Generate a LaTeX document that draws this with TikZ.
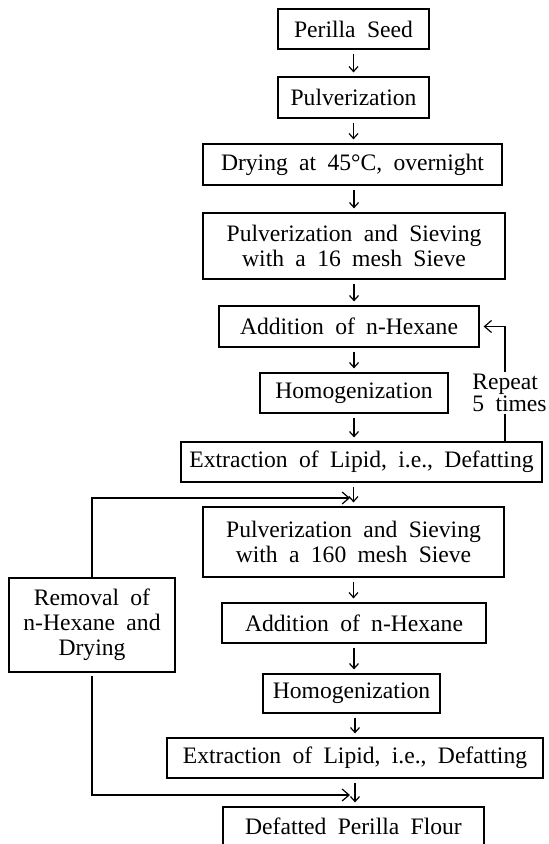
\documentclass[tikz,border=0pt]{standalone}
\usepackage{fontspec}
\setmainfont{Liberation Serif}
\usetikzlibrary{arrows.meta}

\newcommand\widespace{\spaceskip=0.48em plus 0.1em\relax}

\begin{document}
\begin{tikzpicture}[
    x=0.5pt,y=-0.5pt,
    box/.style={draw,line width=0.6pt,align=center,inner sep=0pt,font=\fontsize{11.8}{12.6}\selectfont\widespace},
    arr/.style={-{Straight Barb[length=2.5pt,width=4.5pt]},line width=0.6pt,shorten <=2pt,shorten >=2pt},
    fb/.style={-{Straight Barb[length=3.5pt,width=6pt]},line width=0.6pt,shorten >=2pt}
  ]
    \useasboundingbox (0,0) rectangle (548,844);
    % main column
    \node[box,minimum width=75.5pt,minimum height=20pt] (seed) at (353.5,29) {Perilla Seed};
    \node[box,minimum width=75.5pt,minimum height=20.5pt] (pulv1) at (353.5,97.5) {Pulverization};
    \node[box,minimum width=149.5pt,minimum height=20.5pt] (dry) at (352.5,164.5) {Drying at 45°C, overnight};
    \node[box,minimum width=151pt,minimum height=33pt] (sieve1) at (354,246) {Pulverization and Sieving\\with a 16 mesh Sieve};
    \node[box,minimum width=130pt,minimum height=20.5pt] (hex1) at (349,326.5) {Addition of n-Hexane};
    \node[box,minimum width=94pt,minimum height=20pt] (homo1) at (354,393) {Homogenization};
    \node[box,minimum width=180.5pt,minimum height=20pt] (ext1) at (361.5,462) {Extraction of Lipid, i.e., Defatting};
    \node[box,minimum width=150.5pt,minimum height=35pt] (sieve2) at (353.5,542) {Pulverization and Sieving\\with a 160 mesh Sieve};
    \node[box,minimum width=132pt,minimum height=20pt] (hex2) at (354,623) {Addition of n-Hexane};
    \node[box,minimum width=88.5pt,minimum height=19.5pt] (homo2) at (351.5,693.5) {Homogenization};
    \node[box,minimum width=188pt,minimum height=20pt] (ext2) at (355,758) {Extraction of Lipid, i.e., Defatting};
    \node[box,minimum width=130.5pt,minimum height=19.5pt] (flour) at (353.5,826.5) {Defatted Perilla Flour};
    % side box
    \node[box,minimum width=83pt,minimum height=47pt] (removal) at (92,625) {Removal of\\n-Hexane and\\Drying};

    \draw[arr] (seed.south) -- (seed.south |- pulv1.north);
    \draw[arr] (pulv1.south) -- (pulv1.south |- dry.north);
    \draw[arr] (dry.south -| sieve1) -- (sieve1.north);
    \draw[arr] (sieve1.south) -- (sieve1.south |- hex1.north);
    \draw[arr] (hex1.south -| homo1) -- (homo1.north);
    \draw[arr] (homo1.south) -- (homo1.south |- ext1.north);
    \draw[arr] (ext1.south -| sieve2) -- (sieve2.north);
    \draw[arr] (sieve2.south) -- (sieve2.south |- hex2.north);
    \draw[arr] (hex2.south) -- (hex2.south |- homo2.north);
    \draw[arr] (homo2.south -| ext2) -- (ext2.north);
    \draw[arr] (ext2.south) -- (ext2.south |- flour.north);

    % repeat loop
    \coordinate (rep) at (505,0);
    \draw[fb] (ext1.north -| rep) |- (hex1.east);
    \node[fill=white,inner sep=1pt,align=left,anchor=west,font=\fontsize{11.8}{10}\selectfont\widespace] (reptxt) at (470,393) {Repeat\\5 times};

    % return of the solvent-free meal
    \coordinate (in1) at (354,498);
    \coordinate (in2) at (354,795);
    \draw[fb] (removal.north) |- (in1);
    \draw[fb,shorten <=1.5pt] (removal.south) |- (in2);
\end{tikzpicture}
\end{document}
